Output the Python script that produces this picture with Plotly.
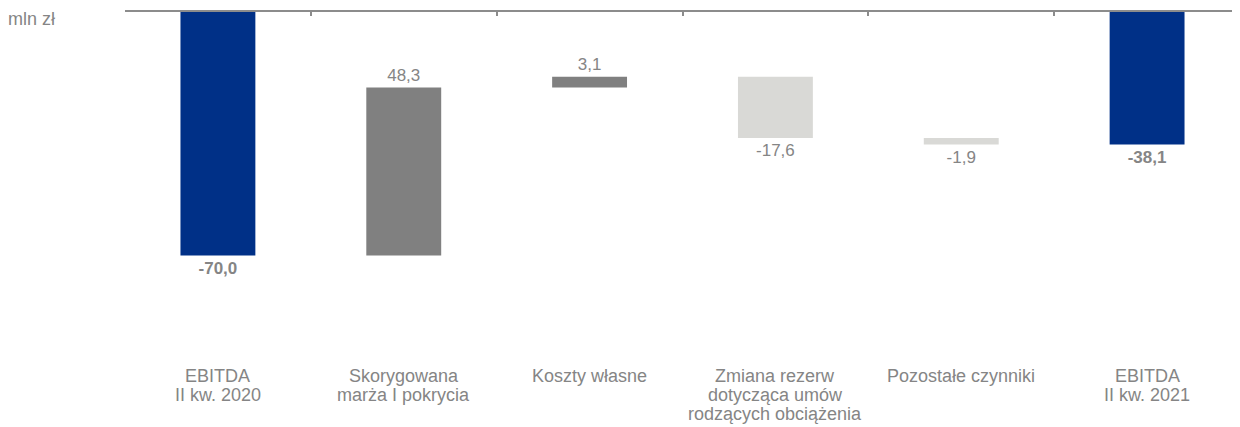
import plotly.graph_objects as go

# EBITDA bridge, mln zł
categories = ["EBITDA<br>II kw. 2020", "Skorygowana<br>marża I pokrycia", "Koszty własne",
              "Zmiana rezerw<br>dotycząca umów<br>rodzących obciążenia",
              "Pozostałe czynniki", "EBITDA<br>II kw. 2021"]
values = [-70.0, 48.3, 3.1, -17.6, -1.9, -38.1]
measures = ["absolute", "relative", "relative", "relative", "relative", "total"]
labels = ["<b>-70,0</b>", "48,3", "3,1", "-17,6", "-1,9", "<b>-38,1</b>"]

navy = "#003087"
grey = "#808080"
light = "#d9d9d6"
txt = "#858585"

fig = go.Figure()
fig.add_trace(go.Waterfall(
    x=list(range(len(categories))), y=values, measure=measures,
    text=labels, textposition="outside", textfont=dict(size=17, color=txt),
    increasing=dict(marker=dict(color=grey)),
    decreasing=dict(marker=dict(color=light)),
    totals=dict(marker=dict(color=navy)),
    connector=dict(visible=False),
    cliponaxis=False, showlegend=False,
))

# category labels under the chart, one line at a time (tighter spacing)
for i, c in enumerate(categories):
    for j, line in enumerate(c.split("<br>")):
        fig.add_annotation(x=i, y=0, xref="x", yref="paper", text=line, showarrow=False,
                           yanchor="middle", yshift=-16 - 19 * j,
                           font=dict(size=18, color=txt))

fig.add_annotation(x=0, y=1, xref="paper", yref="paper", text="mln zł", showarrow=False,
                   xanchor="left", yanchor="middle", xshift=-119, yshift=-7,
                   font=dict(size=18, color=txt))

fig.update_layout(
    width=1232, height=419,
    margin=dict(l=117, r=0, t=4, b=67),
    paper_bgcolor="white", plot_bgcolor="white",
    font=dict(family="Liberation Sans, Arial, sans-serif"),
    waterfallgap=0.597,
    xaxis=dict(side="top", type="linear", range=[-0.5, 5.5], showline=True,
               linecolor="#8c8c8c", linewidth=2, ticks="inside", ticklen=4,
               tickcolor="#8c8c8c", tickwidth=2, tickmode="array",
               tickvals=[-0.5, 0.5, 1.5, 2.5, 3.5, 4.5],
               showticklabels=False, showgrid=False, zeroline=False),
    yaxis=dict(range=[-100, 0], visible=False, showgrid=False),
)

fig.write_html("out.html")
